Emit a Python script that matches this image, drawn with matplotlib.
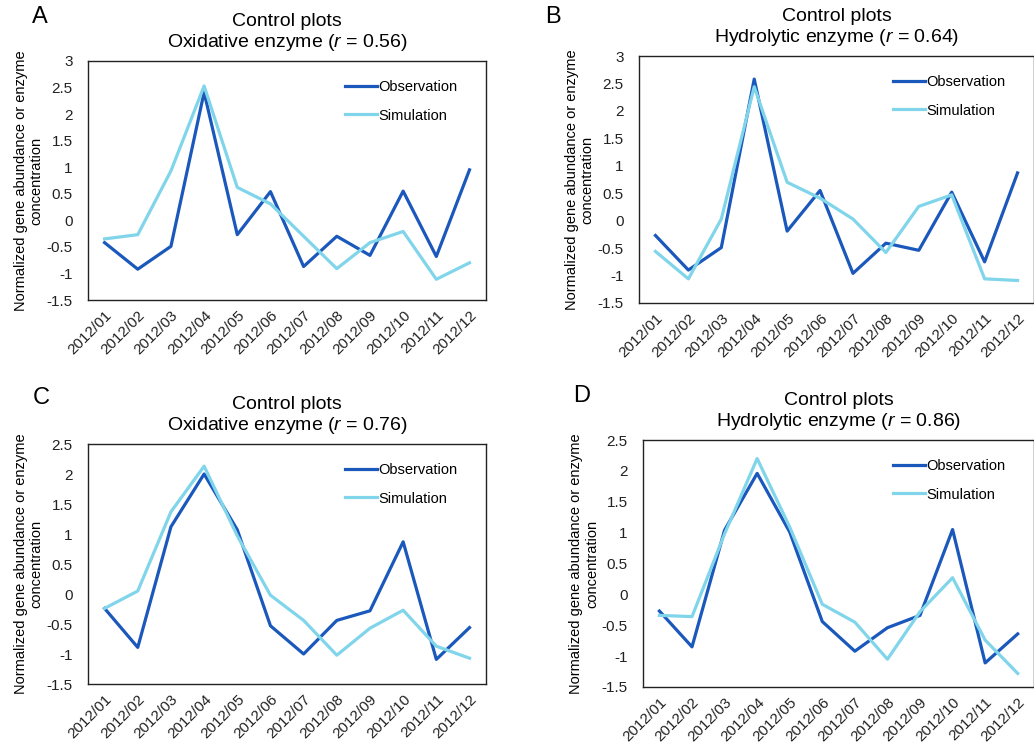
import matplotlib.pyplot as plt

plt.rcParams['font.family'] = ['Liberation Sans', 'DejaVu Sans']
plt.rcParams['mathtext.fontset'] = 'custom'
plt.rcParams['mathtext.rm'] = 'Liberation Sans'
plt.rcParams['mathtext.it'] = 'Liberation Sans:italic'

months = ['2012/01', '2012/02', '2012/03', '2012/04', '2012/05', '2012/06',
          '2012/07', '2012/08', '2012/09', '2012/10', '2012/11', '2012/12']

# Panel A - oxidative enzyme
obs_a = [-0.42, -0.92, -0.49, 2.41, -0.27, 0.54, -0.87, -0.30, -0.66, 0.55, -0.68, 0.95]
sim_a = [-0.35, -0.27, 0.93, 2.53, 0.62, 0.31, -0.30, -0.91, -0.42, -0.21, -1.11, -0.80]
# Panel B - hydrolytic enzyme
obs_b = [-0.27, -0.90, -0.49, 2.58, -0.19, 0.55, -0.96, -0.41, -0.54, 0.52, -0.75, 0.87]
sim_b = [-0.56, -1.06, 0.03, 2.44, 0.70, 0.41, 0.03, -0.58, 0.26, 0.47, -1.06, -1.09]
# Panel C - oxidative enzyme
obs_c = [-0.24, -0.89, 1.12, 2.00, 1.07, -0.53, -1.00, -0.44, -0.28, 0.87, -1.09, -0.56]
sim_c = [-0.24, 0.05, 1.37, 2.13, 0.97, -0.02, -0.44, -1.02, -0.57, -0.27, -0.87, -1.07]
# Panel D - hydrolytic enzyme
obs_d = [-0.27, -0.85, 1.04, 1.96, 1.01, -0.44, -0.92, -0.54, -0.34, 1.05, -1.11, -0.64]
sim_d = [-0.34, -0.36, 0.98, 2.20, 1.09, -0.16, -0.45, -1.05, -0.28, 0.27, -0.74, -1.28]

panels = [
    ('A', 'Oxidative enzyme', '0.56', obs_a, sim_a, [0.0851, 0.600, 0.385, 0.3187], 3.0),
    ('B', 'Hydrolytic enzyme', '0.64', obs_b, sim_b, [0.618, 0.596, 0.382, 0.3293], 3.0),
    ('C', 'Oxidative enzyme', '0.76', obs_c, sim_c, [0.0851, 0.088, 0.385, 0.320], 2.5),
    ('D', 'Hydrolytic enzyme', '0.86', obs_d, sim_d, [0.622, 0.084, 0.378, 0.3293], 2.5),
]
letter_pos = {'A': (0.031, 0.977), 'B': (0.527, 0.977), 'C': (0.032, 0.469), 'D': (0.554, 0.472)}

obs_color = '#1B58BC'
sim_color = '#80D5EA'

fig = plt.figure(figsize=(10.34, 7.5), dpi=100)

for letter, enzyme, r, obs, sim, pos, ymax in panels:
    ax = fig.add_axes(pos)
    x = range(len(months))
    ax.plot(x, obs, color=obs_color, lw=2.3, label='Observation')
    ax.plot(x, sim, color=sim_color, lw=2.3, label='Simulation')
    ax.set_xlim(-0.5, 11.5)
    ax.set_ylim(-1.5, ymax)
    ticks = [-1.5 + 0.5 * i for i in range(int((ymax + 1.5) / 0.5) + 1)]
    ax.set_yticks(ticks)
    ax.set_yticklabels([f'{t:g}' for t in ticks])
    ax.set_xticks(list(x))
    ax.set_xticklabels(months, rotation=45, ha='right', rotation_mode='anchor')
    ax.tick_params(length=0, labelsize=11, colors='#222222')
    ax.tick_params(axis='y', pad=11)
    ax.tick_params(axis='x', pad=6)
    for s in ax.spines.values():
        s.set_color('#222222')
        s.set_linewidth(1.0)
    ax.set_title(f'Control plots\n{enzyme} ($r$ = {r})', fontsize=14, pad=10,
                 linespacing=1.15)
    ax.set_ylabel('Normalized gene abundance or enzyme\nconcentration', fontsize=10.5,
                  labelpad=2)
    ax.legend(loc='upper right', bbox_to_anchor=(0.975, 1.0), frameon=False,
              fontsize=10.5, handlelength=2.2, handletextpad=0.1,
              labelspacing=1.0, borderaxespad=0.9)
    fig.text(*letter_pos[letter], letter, fontsize=17, va='center', ha='left')

fig.savefig('out.png', dpi=100)
